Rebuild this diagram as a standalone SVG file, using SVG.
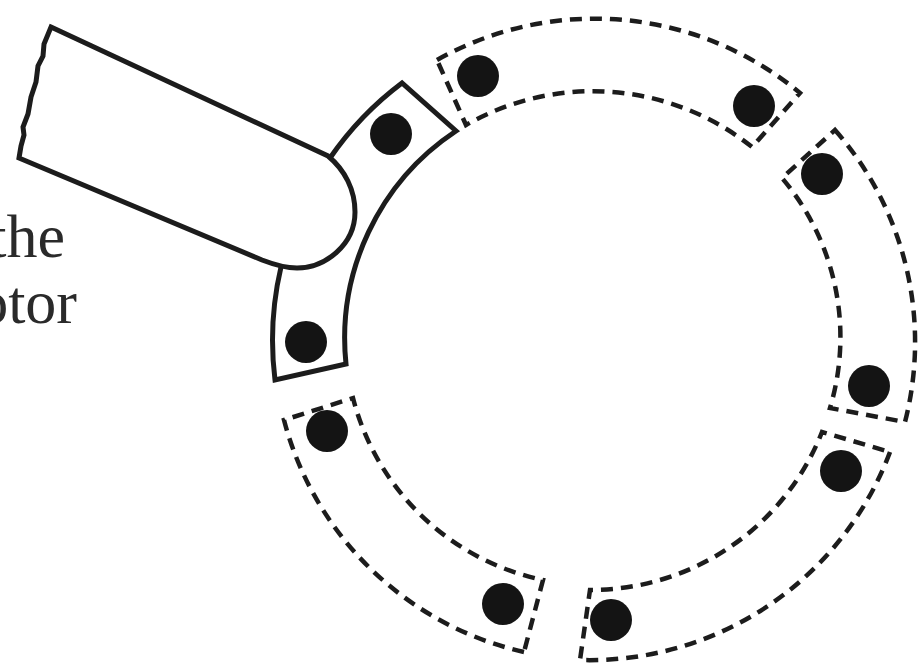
<svg xmlns="http://www.w3.org/2000/svg" width="919" height="664" viewBox="0 0 919 664">
<style>
.solid{fill:none;stroke:#1c1c1c;stroke-width:5;stroke-linejoin:miter}
.dash{fill:none;stroke:#1c1c1c;stroke-width:4.5;stroke-dasharray:12 8}
.dot{fill:#141414}
.label{font-family:"Liberation Serif",serif;font-size:62px;fill:#2a2a2a;text-anchor:end}
</style>
<rect width="919" height="664" fill="#fff"/>
<g id="connectors"></g>
<g id="solid-segment">
<path class="solid" d="M330,158 A321,321 0 0 1 402,83 L456,131 A249,249 0 0 0 346,364 L275,380 A321,321 0 0 1 281,267"/>
<circle class="dot" cx="391" cy="134" r="21"/>
<circle class="dot" cx="306" cy="342" r="21"/>
</g>
<g id="probe">
<path class="solid" d="M51,27 L328,156 C345,170 355,190 355,212 C355,245 325,268 297,268 C285,268 275,265 262,260 L19,158 L21,146 L24,135 L23,127 L28,114 L31,97 L36,82 L38,66 L43,56 L44,44 Z"/>
</g>
<g id="segment-top">
<path class="dash" d="M437,60 A321,321 0 0 1 800,93 L752,147 A255,255 0 0 0 466,125 Z"/>
<circle class="dot" cx="478" cy="76" r="21"/>
<circle class="dot" cx="754" cy="106" r="21"/>
</g>
<g id="segment-right">
<path class="dash" d="M835,130 A321,321 0 0 1 905,422 L830,408 A246,246 0 0 0 782,178 Z"/>
<circle class="dot" cx="822" cy="174" r="21"/>
<circle class="dot" cx="869" cy="386" r="21"/>
</g>
<g id="segment-lower-right">
<path class="dash" d="M890,452 A321,321 0 0 1 580,660 L590,590 A249,249 0 0 0 822,432 Z"/>
<circle class="dot" cx="841" cy="471" r="21"/>
<circle class="dot" cx="611" cy="620" r="21"/>
</g>
<g id="segment-lower-left">
<path class="dash" d="M524,652 A321,321 0 0 1 284,420 L353,398 A249,249 0 0 0 543,580 Z"/>
<circle class="dot" cx="327" cy="431" r="21"/>
<circle class="dot" cx="503" cy="604" r="21"/>
</g>
<g id="labels">
<text class="label" x="65" y="257">the</text>
<text class="label" x="77" y="323">otor</text>
</g>
</svg>
